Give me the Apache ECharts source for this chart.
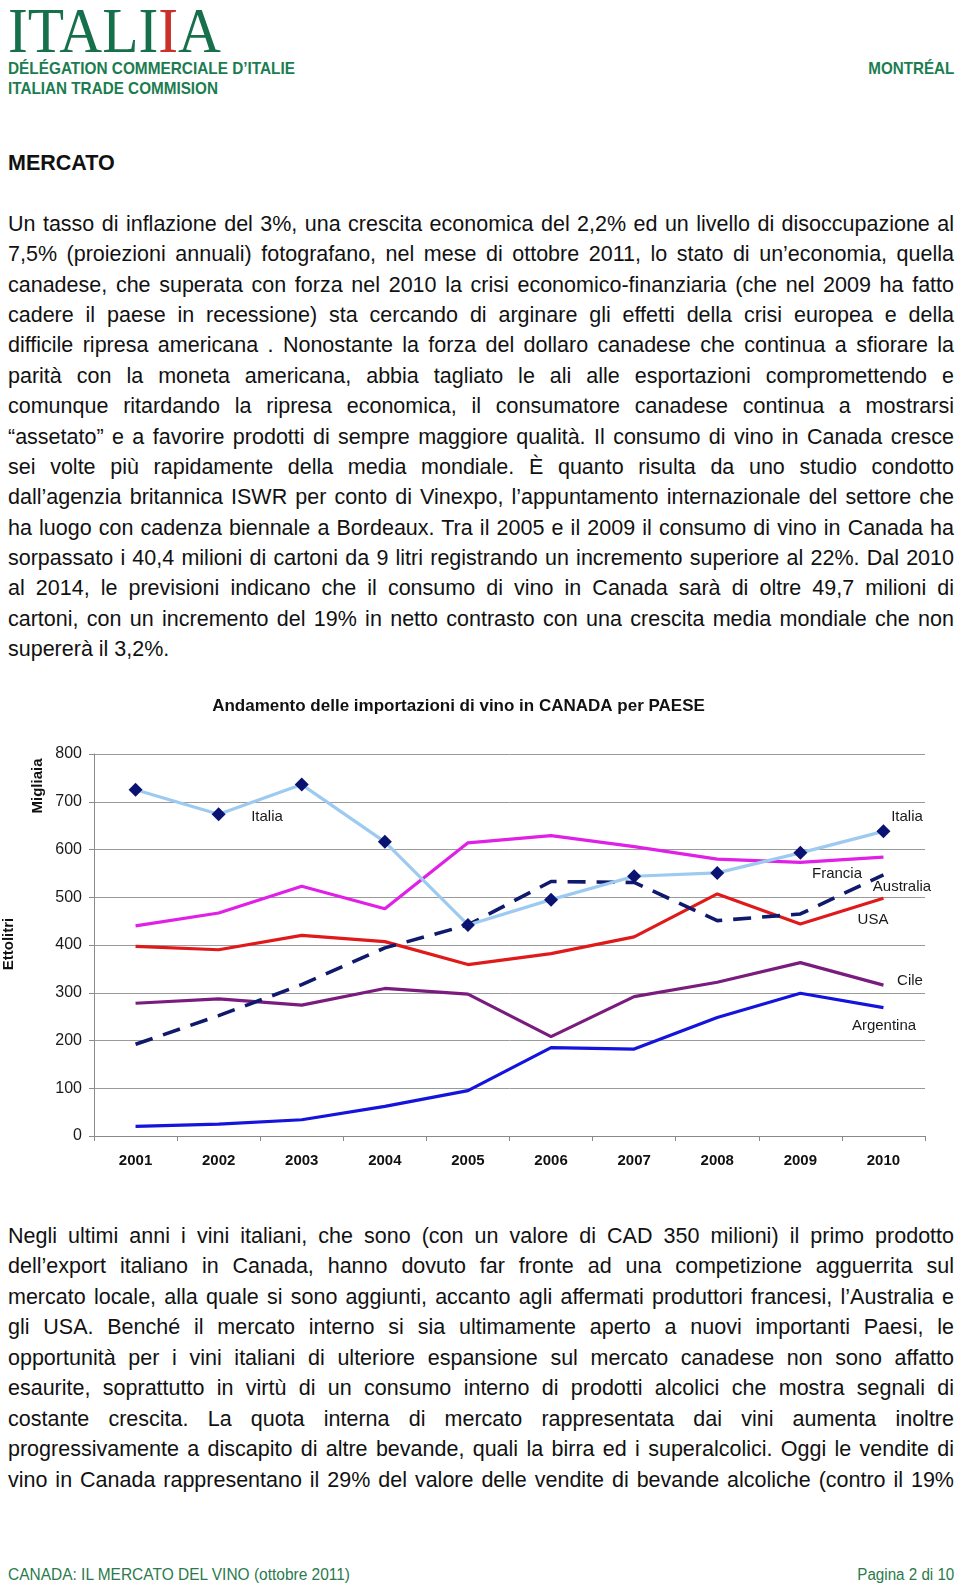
<!DOCTYPE html>
<html><head><meta charset="utf-8">
<script src="https://cdn.jsdelivr.net/npm/echarts/dist/echarts.min.js"></script>
<style>
html,body{margin:0;padding:0;background:#fff;}
body{width:960px;height:1591px;position:relative;overflow:hidden;font-family:"Liberation Sans",Arial,Helvetica,sans-serif;color:#111;}
.abs{position:absolute;white-space:nowrap;}
.ln{position:absolute;left:8px;width:946px;font-size:21.5px;line-height:30px;height:30px;overflow:visible;}
.hd{font-family:"Liberation Sans Narrow","Liberation Sans",Arial,sans-serif;font-weight:bold;font-size:17px;line-height:20px;color:#1b7d4f;}
.ft{font-family:"Liberation Sans Narrow","Liberation Sans",Arial,sans-serif;font-size:16px;line-height:20px;color:#2a7a4c;}
#logo{font-family:"Liberation Serif","DejaVu Serif",serif;font-size:63px;line-height:65px;color:#17704c;left:8px;top:-1px;}
#chart{position:absolute;left:0;top:680px;width:960px;height:500px;}
</style></head>
<body>
<div id="logo" class="abs">ITAL<span>I</span><span style="color:#c8322a">I</span>A</div>
<div id="h1" class="abs hd" style="left:8px;top:59px">DÉLÉGATION COMMERCIALE D’ITALIE</div>
<div id="h2" class="abs hd" style="left:8px;top:79px">ITALIAN TRADE COMMISION</div>
<div id="h3" class="abs hd" style="right:6px;top:59px">MONTRÉAL</div>
<div class="abs" style="left:8px;top:147.5px;font-weight:bold;font-size:21.5px;line-height:30px">MERCATO</div>
<div id="p1"></div>
<div id="chart"></div>
<div id="p2"></div>
<div id="f1" class="abs ft" style="left:8px;top:1565px">CANADA: IL MERCATO DEL VINO (ottobre 2011)</div>
<div id="f2" class="abs ft" style="right:6px;top:1565px">Pagina 2 di 10</div>
<script>
// ---- data ----
const years = ['2001','2002','2003','2004','2005','2006','2007','2008','2009','2010'];
const italia    = [725, 674, 736, 616, 442, 495, 544, 551, 593, 638];
const francia   = [440, 467, 523, 476, 614, 629, 606, 580, 573, 584];
const usa       = [397, 390, 420, 407, 359, 382, 417, 507, 444, 498];
const australia = [192, 252, 317, 394, 442, 533, 531, 451, 465, 547];
const cile      = [278, 287, 274, 309, 297, 208, 292, 322, 363, 316];
const argentina = [20, 25, 34, 62, 95, 185, 182, 248, 299, 269];
const yTicks = [0, 100, 200, 300, 400, 500, 600, 700, 800];

const para1 = [
"Un tasso di inflazione del 3%, una crescita economica del 2,2% ed un livello di disoccupazione al",
"7,5% (proiezioni annuali) fotografano, nel mese di ottobre 2011, lo stato di un’economia, quella",
"canadese, che superata con forza nel 2010 la crisi economico-finanziaria (che nel 2009 ha fatto",
"cadere il paese in recessione) sta cercando di arginare gli effetti della crisi europea e della",
"difficile ripresa americana . Nonostante la forza del dollaro canadese che continua a sfiorare la",
"parità con la moneta americana, abbia tagliato le ali alle esportazioni compromettendo e",
"comunque ritardando la ripresa economica, il consumatore canadese continua a mostrarsi",
"“assetato” e a favorire prodotti di sempre maggiore qualità. Il consumo di vino in Canada cresce",
"sei volte più rapidamente della media mondiale. È quanto risulta da uno studio condotto",
"dall’agenzia britannica ISWR per conto di Vinexpo, l’appuntamento internazionale del settore che",
"ha luogo con cadenza biennale a Bordeaux. Tra il 2005 e il 2009 il consumo di vino in Canada ha",
"sorpassato i 40,4 milioni di cartoni da 9 litri registrando un incremento superiore al 22%. Dal 2010",
"al 2014, le previsioni indicano che il consumo di vino in Canada sarà di oltre 49,7 milioni di",
"cartoni, con un incremento del 19% in netto contrasto con una crescita media mondiale che non",
"supererà il 3,2%."
];
const para2 = [
"Negli ultimi anni i vini italiani, che sono (con un valore di CAD 350 milioni) il primo prodotto",
"dell’export italiano in Canada, hanno dovuto far fronte ad una competizione agguerrita sul",
"mercato locale, alla quale si sono aggiunti, accanto agli affermati produttori francesi, l’Australia e",
"gli USA. Benché il mercato interno si sia ultimamente aperto a nuovi importanti Paesi, le",
"opportunità per i vini italiani di ulteriore espansione sul mercato canadese non sono affatto",
"esaurite, soprattutto in virtù di un consumo interno di prodotti alcolici che mostra segnali di",
"costante crescita. La quota interna di mercato rappresentata dai vini aumenta inoltre",
"progressivamente a discapito di altre bevande, quali la birra ed i superalcolici. Oggi le vendite di",
"vino in Canada rappresentano il 29% del valore delle vendite di bevande alcoliche (contro il 19%"
];

function fit(id, w) {
  const el = document.getElementById(id);
  const r = el.getBoundingClientRect().width;
  el.style.transform = 'scaleX(' + (w / r) + ')';
  el.style.transformOrigin = el.style.right ? 'right top' : 'left top';
}
fit('logo', 213); fit('h1', 287); fit('h2', 210); fit('h3', 86);
fit('f1', 342); fit('f2', 97);

function writePara(containerId, lines, base, step, lastJustified) {
  const c = document.getElementById(containerId);
  lines.forEach((t, i) => {
    const d = document.createElement('div');
    d.className = 'ln';
    d.style.top = (base + i * step - 22.45) + 'px';
    const s = document.createElement('span');
    s.textContent = t;
    d.style.whiteSpace = 'nowrap';
    d.appendChild(s);
    c.appendChild(d);
    const w = s.getBoundingClientRect().width;
    if (w > 945) {
      s.style.letterSpacing = (-(w - 945) / t.length) + 'px';
    }
    const justify = (i < lines.length - 1) || lastJustified;
    if (justify) {
      d.style.whiteSpace = 'normal';
      d.style.textAlign = 'justify';
      d.style.textAlignLast = 'justify';
    }
  });
}
writePara('p1', para1, 231.5, 30.36, false);
writePara('p2', para2, 1243, 30.5, true);

// ---- chart ----
const chart = echarts.init(document.getElementById('chart'), null, {renderer: 'canvas'});
const FONT = '"Liberation Sans", Arial, sans-serif';
function lineSeries(name, data, color, extra) {
  return Object.assign({
    name: name, type: 'line', data: data, symbol: 'none', smooth: false,
    lineStyle: {color: color, width: 3.2},
    itemStyle: {color: color},
    emphasis: {disabled: true}, silent: true, z: 3
  }, extra || {});
}
function txt(text, x, y, opts) {
  return Object.assign({
    type: 'text', x: x, y: y, silent: true,
    style: {text: text, fill: '#1a1a1a', font: '15px ' + FONT, align: 'center', verticalAlign: 'middle'}
  }, opts || {});
}
function rtxt(text, x, y, font) {
  return {type: 'text', x: x, y: y, silent: true, rotation: Math.PI / 2,
    style: {text: text, fill: '#111', font: font, align: 'center', verticalAlign: 'middle'}};
}
const option = {
  animation: false,
  backgroundColor: '#fff',
  grid: {left: 94, right: 35, top: 74, bottom: 44},
  xAxis: {
    type: 'category', data: years, boundaryGap: true,
    axisLine: {lineStyle: {color: '#8a8a8a', width: 1}},
    axisTick: {show: true, length: 5, lineStyle: {color: '#8a8a8a'}},
    axisLabel: {color: '#111', fontFamily: FONT, fontWeight: 'bold', fontSize: 15, margin: 17},
    splitLine: {show: false}
  },
  yAxis: {
    type: 'value', min: yTicks[0], max: yTicks[yTicks.length - 1], interval: yTicks[1] - yTicks[0],
    axisLine: {show: true, lineStyle: {color: '#8a8a8a', width: 1}},
    axisTick: {show: true, length: 5, lineStyle: {color: '#8a8a8a'}},
    axisLabel: {color: '#1a1a1a', fontFamily: FONT, fontSize: 16, margin: 12},
    splitLine: {show: true, lineStyle: {color: '#9a9a9a', width: 1}}
  },
  series: [
    lineSeries('Argentina', argentina, '#1414dc'),
    lineSeries('Cile', cile, '#7a1c7e'),
    lineSeries('USA', usa, '#e01a1a'),
    lineSeries('Francia', francia, '#e020e6'),
    lineSeries('Italia', italia, '#9dcaf0', {
      symbol: 'diamond', symbolSize: 14, showSymbol: true,
      itemStyle: {color: '#0a1272', borderWidth: 0}, z: 5
    }),
    lineSeries('Australia', australia, '#101a6c', {lineStyle: {color: '#101a6c', width: 3.6, type: [18, 11]}, z: 4})
  ],
  graphic: [
    {type: 'text', x: 458.5, y: 26, silent: true,
     style: {text: 'Andamento delle importazioni di vino in CANADA per PAESE', fill: '#111', font: 'bold 17px ' + FONT, align: 'center', verticalAlign: 'middle'}},
    rtxt('Migliaia', 38, 106, 'bold 15px ' + FONT),
    rtxt('Ettolitri', 8.5, 264, 'bold 15px ' + FONT),
    txt('Italia', 267, 137),
    txt('Italia', 907, 137),
    txt('Francia', 837, 194),
    txt('Australia', 902, 207),
    txt('USA', 873, 240),
    txt('Cile', 910, 301),
    txt('Argentina', 884, 346)
  ]
};
chart.setOption(option);
</script>
</body></html>
